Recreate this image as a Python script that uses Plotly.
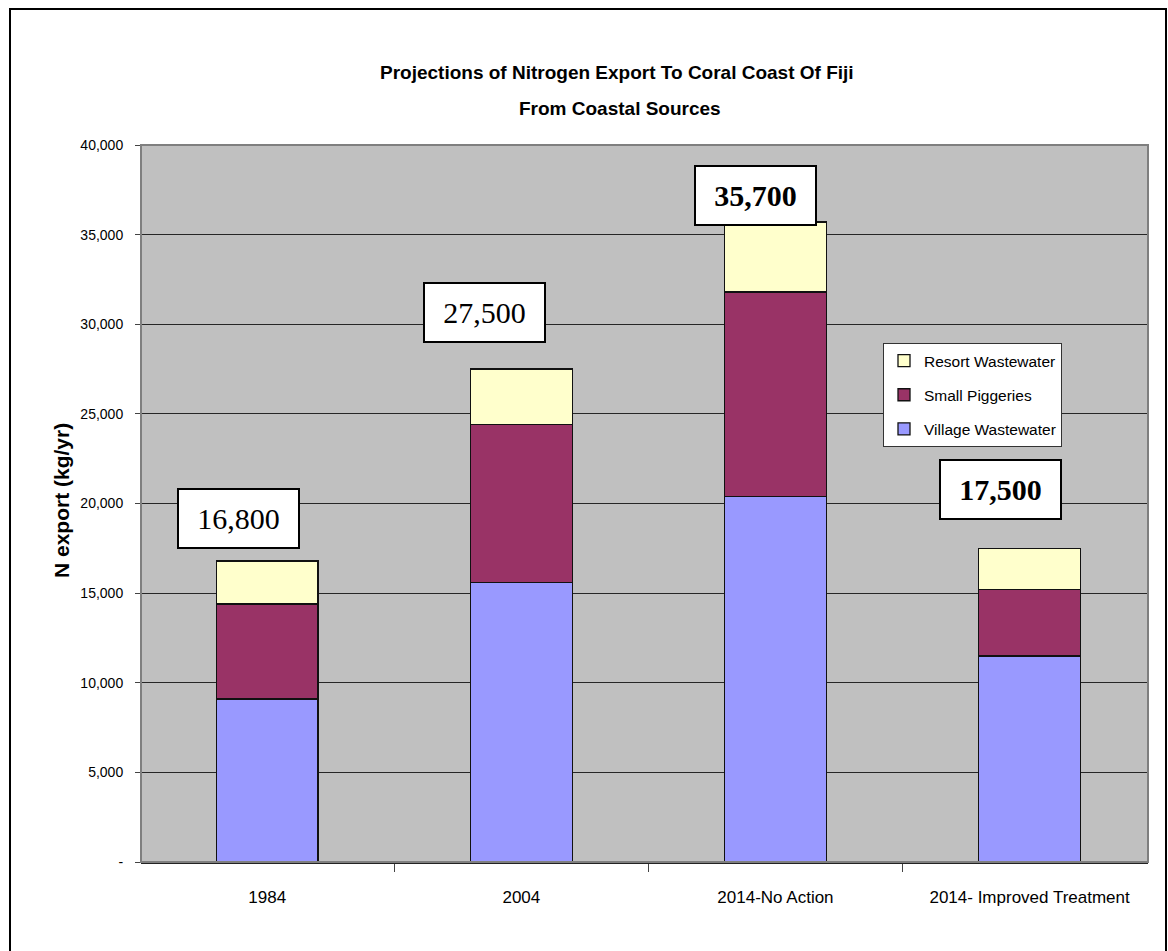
import plotly.graph_objects as go

# ---- data ----
categories = ["1984", "2004", "2014-No Action", "2014- Improved Treatment"]
village_wastewater = [9100, 15600, 20400, 11500]
small_piggeries = [5300, 8800, 11400, 3700]
resort_wastewater = [2400, 3100, 3900, 2300]
total_labels = ["16,800", "27,500", "35,700", "17,500"]
y_tick_values = [0, 5000, 10000, 15000, 20000, 25000, 30000, 35000, 40000]
y_tick_labels = ["-", "5,000", "10,000", "15,000", "20,000", "25,000", "30,000", "35,000", "40,000"]

# ---- layout geometry (pixels) ----
W, H = 1168, 951
L, R, T, B = 141, 20, 145, 89
PW, PH = W - L - R, H - T - B


def px_x(p):
    return (p - L) / PW


def px_y(p):
    return (H - B - p) / PH


SANS = "Liberation Sans, Arial, sans-serif"
SERIF = "Liberation Serif, Times New Roman, serif"

fig = go.Figure()
series = [
    ("Village Wastewater", village_wastewater, "#9999FF", 3),
    ("Small Piggeries", small_piggeries, "#993366", 2),
    ("Resort Wastewater", resort_wastewater, "#FFFFCC", 1),
]
for name, vals, col, rank in series:
    fig.add_trace(go.Bar(
        x=categories, y=vals, name=name, legendgroup=name, legendrank=rank,
        marker=dict(color=col, line=dict(color="#111111", width=1.3)),
        width=0.4, hoverinfo="x+y+name",
    ))

totals = [a + b + c for a, b, c in zip(village_wastewater, small_piggeries, resort_wastewater)]
label_style = [
    dict(bold=False, xshift=-29, yshift=12),
    dict(bold=False, xshift=-37, yshift=26),
    dict(bold=True, xshift=-20, yshift=-4),
    dict(bold=True, xshift=-29, yshift=28),
]
annotations = []
for i, (tot, txt, st) in enumerate(zip(totals, total_labels, label_style)):
    annotations.append(dict(
        x=i, y=tot, xref="x", yref="y",
        text=("<b>%s</b>" % txt) if st["bold"] else txt,
        showarrow=False, xanchor="center", yanchor="bottom",
        xshift=st["xshift"], yshift=st["yshift"],
        font=dict(family=SERIF, size=30, color="black"),
        bgcolor="white", bordercolor="black", borderwidth=2, borderpad=2,
        width=115, height=53, align="center", valign="middle",
    ))

# title lines
annotations.append(dict(
    x=px_x(617), y=px_y(73), xref="paper", yref="paper",
    text="<b>Projections of Nitrogen Export To Coral Coast Of Fiji</b>",
    showarrow=False, xanchor="center", yanchor="middle",
    font=dict(family=SANS, size=19, color="black"),
))
annotations.append(dict(
    x=px_x(620), y=px_y(108), xref="paper", yref="paper",
    text="<b>From Coastal Sources</b>",
    showarrow=False, xanchor="center", yanchor="middle",
    font=dict(family=SANS, size=19, color="black"),
))
# y axis title
annotations.append(dict(
    x=px_x(61), y=px_y(501), xref="paper", yref="paper",
    text="<b>N export (kg/yr)</b>", textangle=-90,
    showarrow=False, xanchor="center", yanchor="middle",
    font=dict(family=SANS, size=21, color="black"),
))

shapes = [
    # plot area border
    dict(type="rect", xref="paper", yref="paper", x0=0, x1=1, y0=0, y1=1,
         line=dict(color="#7f7f7f", width=2), layer="above"),
    # outer chart border
    dict(type="rect", xref="paper", yref="paper",
         x0=px_x(10), x1=px_x(1166), y0=px_y(9), y1=px_y(958),
         line=dict(color="black", width=2)),
]

fig.update_layout(
    width=W, height=H,
    margin=dict(l=L, r=R, t=T, b=B, autoexpand=False),
    paper_bgcolor="white", plot_bgcolor="#C0C0C0",
    barmode="stack", bargap=0.6,
    showlegend=True,
    legend=dict(
        x=px_x(883), y=px_y(343), xanchor="left", yanchor="top",
        bgcolor="white", bordercolor="#333333", borderwidth=1,
        traceorder="grouped", tracegroupgap=11,
        font=dict(family=SANS, size=15.5, color="black"),
        itemwidth=30,
    ),
    xaxis=dict(
        type="category", range=[-0.4966, 3.466],
        tickson="boundaries", ticks="outside", ticklen=8, tickcolor="#444444",
        showgrid=False, showline=True, linecolor="#222222", linewidth=1.5,
        tickfont=dict(family=SANS, size=17, color="black"),
        ticklabelstandoff=19,
    ),
    yaxis=dict(
        range=[0, 40000], tickvals=y_tick_values, ticktext=y_tick_labels,
        ticks="outside", ticklen=5, tickcolor="#444444",
        showgrid=True, gridcolor="#262626", gridwidth=1,
        zeroline=False, showline=False,
        tickfont=dict(family=SANS, size=14, color="black"),
        ticklabelstandoff=9,
    ),
    annotations=annotations,
    shapes=shapes,
)

fig.write_html("out.html")
